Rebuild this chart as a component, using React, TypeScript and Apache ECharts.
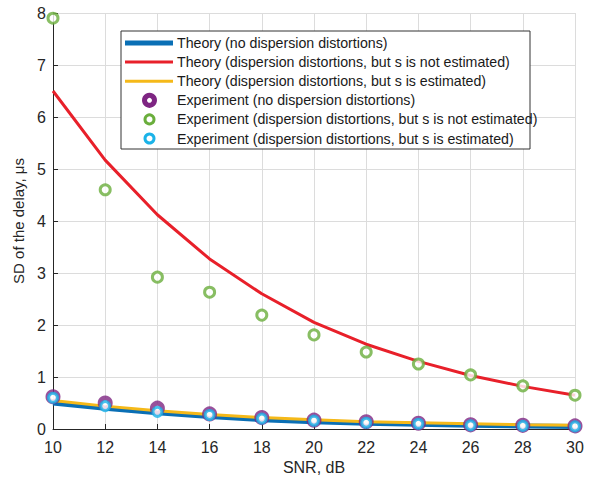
import React, { useEffect, useRef } from "react";
import * as echarts from "echarts";

const snr = [10, 12, 14, 16, 18, 20, 22, 24, 26, 28, 30];
const theoryNoDisp = [0.5, 0.4, 0.31, 0.24, 0.18, 0.14, 0.11, 0.09, 0.07, 0.06, 0.05];
const theoryNotEst = [6.5, 5.17, 4.12, 3.27, 2.6, 2.05, 1.63, 1.3, 1.03, 0.82, 0.65];
const theoryEst = [0.55, 0.44, 0.35, 0.28, 0.22, 0.18, 0.14, 0.12, 0.1, 0.08, 0.07];
const expNoDisp = [0.62, 0.5, 0.4, 0.29, 0.22, 0.17, 0.14, 0.11, 0.08, 0.07, 0.06];
const expNotEst = [7.9, 4.6, 2.92, 2.63, 2.19, 1.81, 1.48, 1.25, 1.04, 0.83, 0.65];
const expEst = [0.6, 0.44, 0.33, 0.27, 0.2, 0.16, 0.12, 0.1, 0.07, 0.06, 0.05];
const xTicks = [10, 12, 14, 16, 18, 20, 22, 24, 26, 28, 30];
const yTicks = [0, 1, 2, 3, 4, 5, 6, 7, 8];

const names = [
  "Theory (no dispersion distortions)",
  "Theory (dispersion distortions, but s is not estimated)",
  "Theory (dispersion distortions, but s is estimated)",
  "Experiment (no dispersion distortions)",
  "Experiment (dispersion distortions, but s is not estimated)",
  "Experiment (dispersion distortions, but s is estimated)",
];
const colors = ["#0a6fb5", "#e8202a", "#f5b919", "#7e2582", "#6aae3c", "#1bb3e8"];

const FONT = "'Liberation Sans', Arial, sans-serif";

export default function App() {
  const ref = useRef<HTMLDivElement>(null);
  useEffect(() => {
    if (!ref.current) return;
    const chart = echarts.init(ref.current, undefined, { renderer: "svg" });
    const pair = (ys: number[]) => snr.map((x, i) => [x, ys[i]]);

    const lx = 121, ly = 31, lw = 409, lh = 118, rowH = 19.1;
    const legendEls: any[] = [
      {
        type: "rect",
        shape: { x: lx, y: ly, width: lw, height: lh },
        style: { fill: "#fff", stroke: "#333", lineWidth: 1 },
        z: 100,
      },
    ];
    const lineWidths = [5, 3, 3];
    names.forEach((n, i) => {
      const cy = ly + 12 + i * rowH;
      if (i < 3) {
        legendEls.push({
          type: "line",
          shape: { x1: lx + 4, y1: cy, x2: lx + 52, y2: cy },
          style: { stroke: colors[i], lineWidth: lineWidths[i] },
          z: 101,
        });
      } else {
        const r = i === 3 ? 5 : 4.5;
        const bw = i === 3 ? 5 : 3;
        legendEls.push({
          type: "circle",
          shape: { cx: lx + 28.5, cy, r },
          style: { fill: "#fff", stroke: colors[i], lineWidth: bw },
          z: 101,
        });
      }
      legendEls.push({
        type: "text",
        x: lx + 56,
        y: cy,
        style: {
          text: n,
          fill: "#1a1a1a",
          font: `14.2px ${FONT}`,
          textVerticalAlign: "middle",
        },
        z: 101,
      });
    });

    chart.setOption({
      animation: false,
      backgroundColor: "#fff",
      grid: { left: 53, right: 22, top: 13, bottom: 48, outerBoundsMode: "none", containLabel: false },
      xAxis: {
        type: "value",
        min: 10,
        max: 30,
        interval: 2,
        name: "SNR, dB",
        nameLocation: "middle",
        nameGap: 27,
        nameTextStyle: { fontSize: 16, color: "#262626", fontFamily: FONT },
        axisLine: { lineStyle: { color: "#262626", width: 1 } },
        axisTick: { inside: true, length: 5, lineStyle: { color: "#262626" } },
        axisLabel: {
          fontSize: 16,
          color: "#262626",
          fontFamily: FONT,
          margin: 10,
          formatter: (v: number) => (xTicks.includes(v) ? String(v) : ""),
        },
        splitLine: { show: true, lineStyle: { color: "#dcdcdc", width: 1 } },
      },
      yAxis: {
        type: "value",
        min: 0,
        max: 8,
        interval: 1,
        name: "SD of the delay, μs",
        nameLocation: "middle",
        nameGap: 27,
        nameTextStyle: { fontSize: 15, color: "#262626", fontFamily: FONT },
        axisLine: { show: true, lineStyle: { color: "#262626", width: 1 } },
        axisTick: { show: true, inside: true, length: 5, lineStyle: { color: "#262626" } },
        axisLabel: {
          fontSize: 16,
          color: "#262626",
          fontFamily: FONT,
          margin: 7,
          formatter: (v: number) => (yTicks.includes(v) ? String(v) : ""),
        },
        splitLine: { show: true, lineStyle: { color: "#dcdcdc", width: 1 } },
      },
      series: [
        {
          name: names[0],
          type: "line",
          data: pair(theoryNoDisp),
          symbol: "none",
          lineStyle: { color: colors[0], width: 5 },
          z: 2,
        },
        {
          name: names[1],
          type: "line",
          data: pair(theoryNotEst),
          symbol: "none",
          lineStyle: { color: colors[1], width: 3 },
          z: 2,
        },
        {
          name: names[2],
          type: "line",
          data: pair(theoryEst),
          symbol: "none",
          lineStyle: { color: colors[2], width: 3 },
          z: 3,
        },
        {
          name: names[3],
          type: "scatter",
          data: pair(expNoDisp),
          symbol: "circle",
          symbolSize: 10,
          itemStyle: { color: "#fff", borderColor: colors[3], borderWidth: 5 },
          z: 4,
        },
        {
          name: names[4],
          type: "scatter",
          data: pair(expNotEst),
          symbol: "circle",
          symbolSize: 10,
          itemStyle: { color: "#fff", borderColor: colors[4], borderWidth: 3 },
          z: 5,
        },
        {
          name: names[5],
          type: "scatter",
          data: pair(expEst),
          symbol: "circle",
          symbolSize: 9,
          itemStyle: { color: "#fff", borderColor: colors[5], borderWidth: 3 },
          z: 6,
        },
      ],
      graphic: { elements: legendEls },
    });
    return () => chart.dispose();
  }, []);
  return <div ref={ref} style={{ width: 597, height: 477, position: "absolute", left: 0, top: 0 }} />;
}
